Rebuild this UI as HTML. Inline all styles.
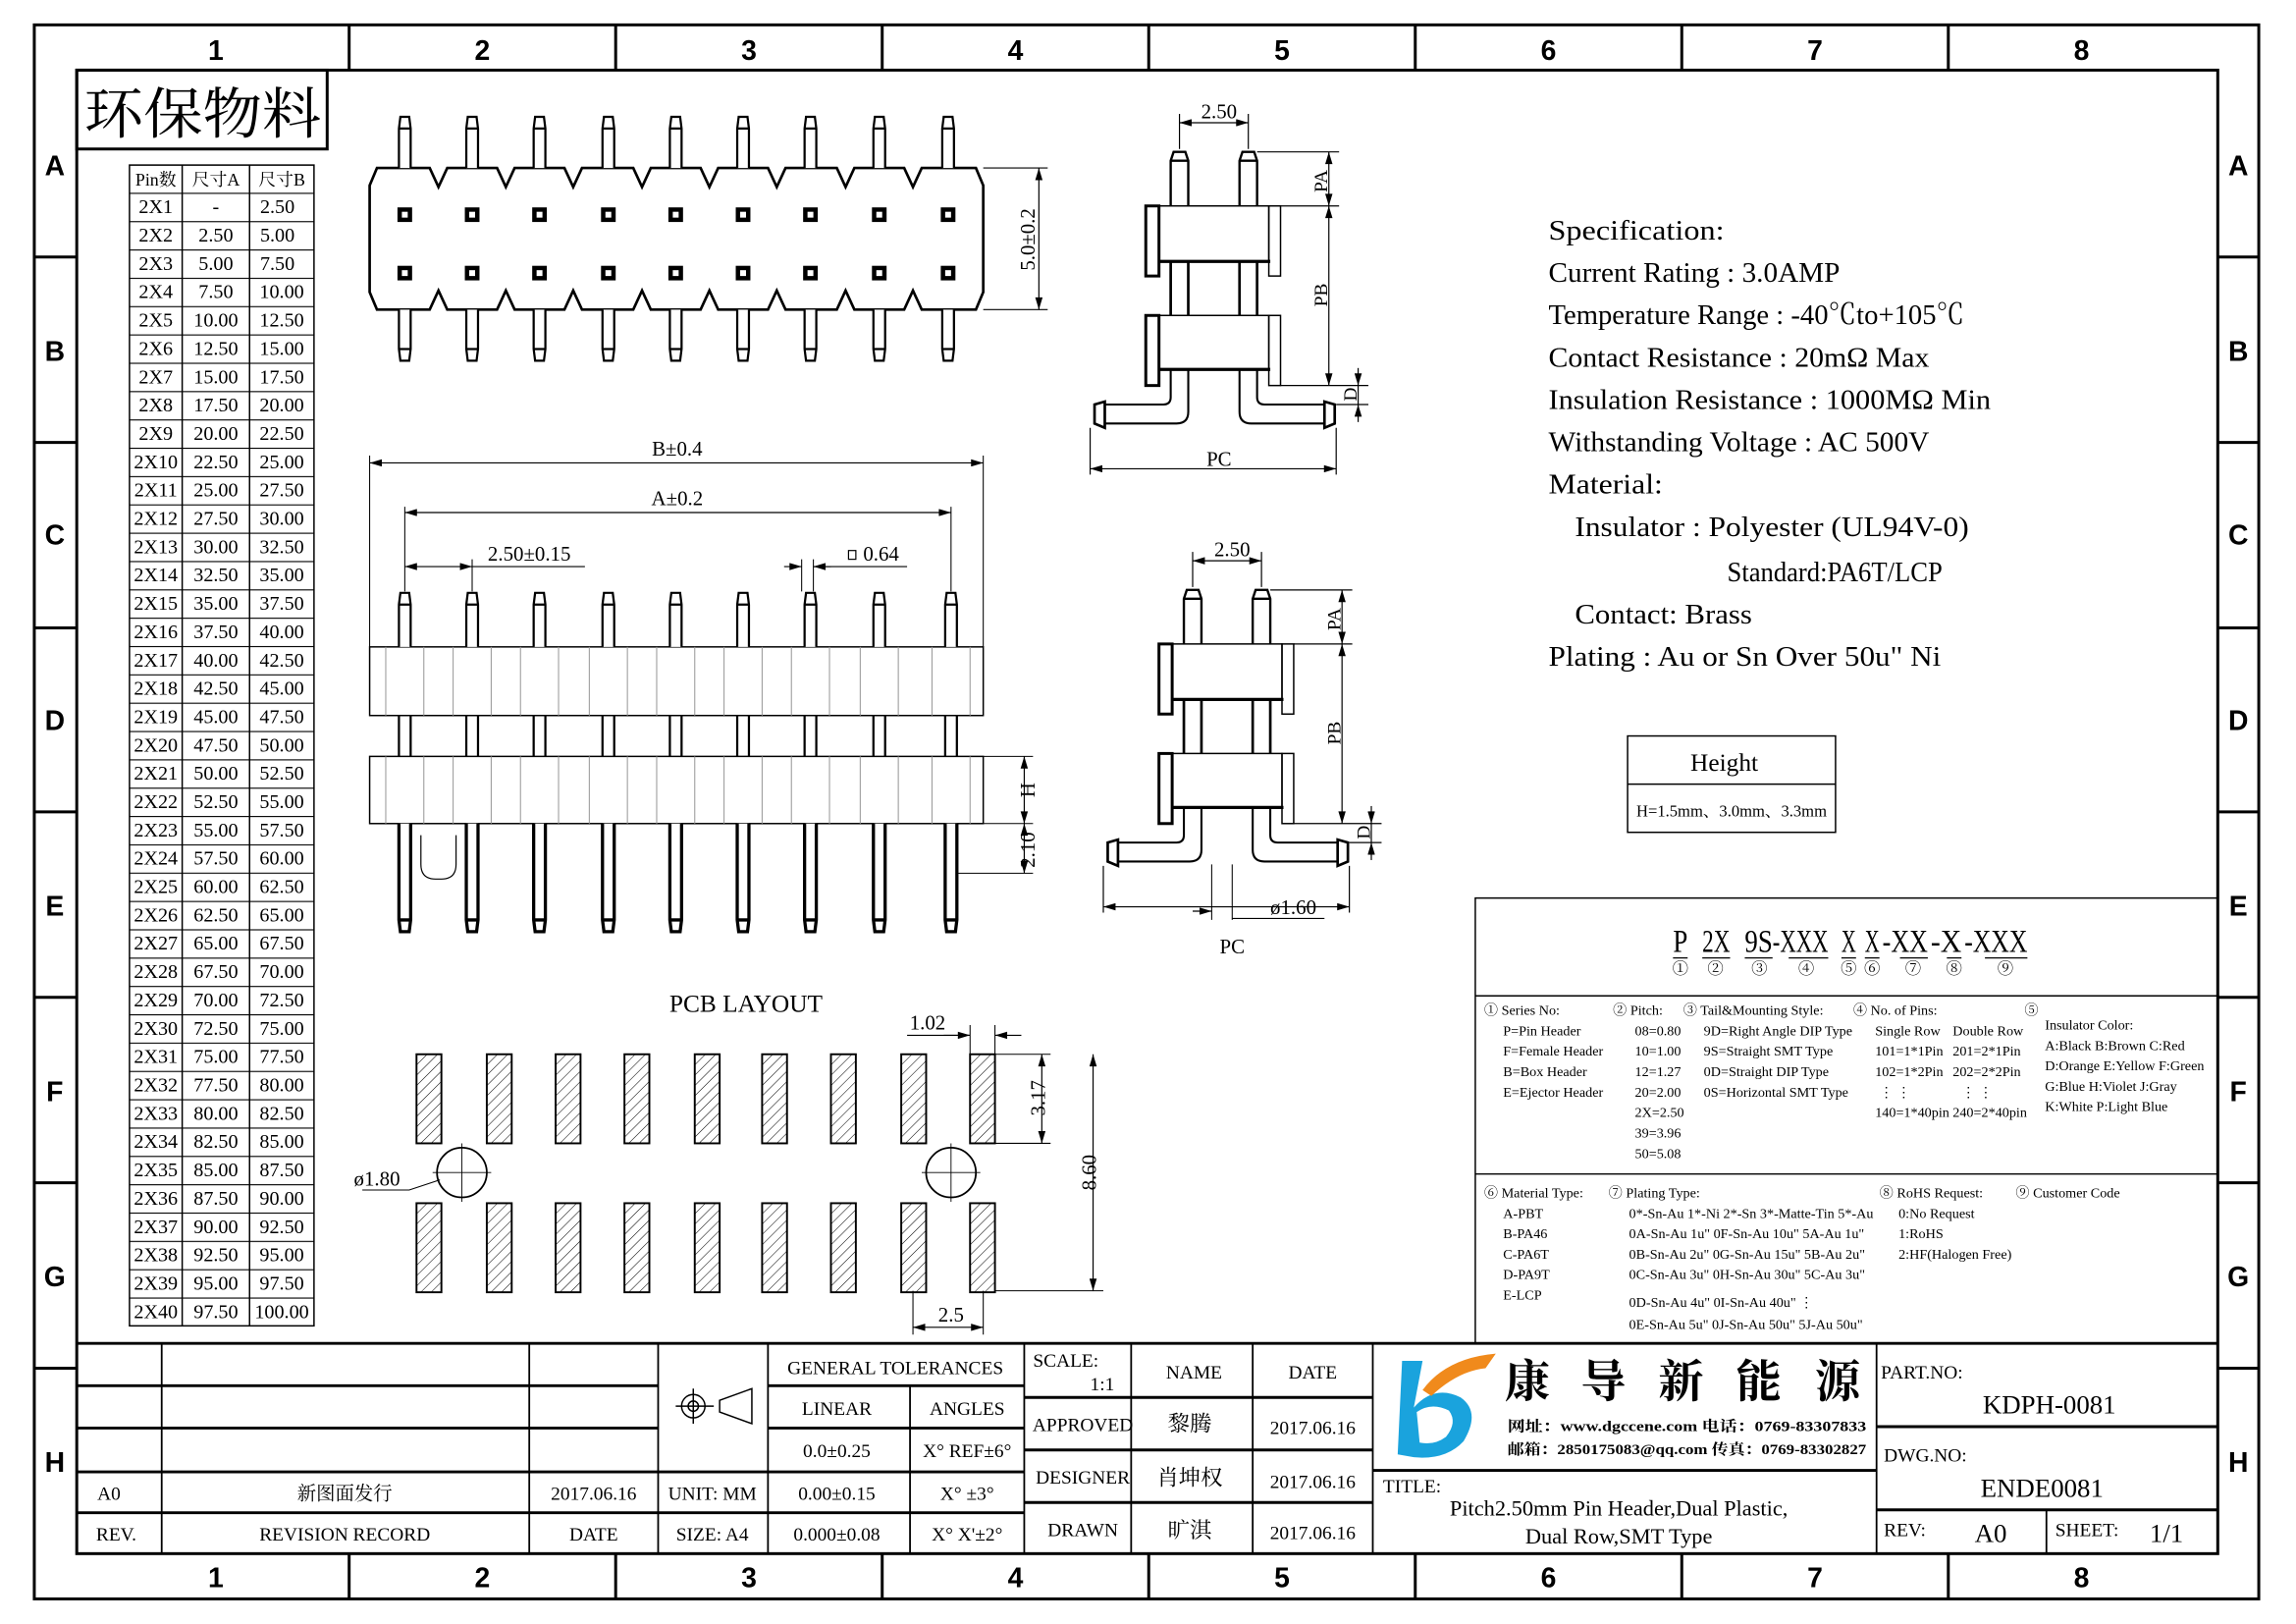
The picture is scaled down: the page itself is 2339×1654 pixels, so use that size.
<!DOCTYPE html>
<html><head><meta charset="utf-8"><style>
html,body{margin:0;padding:0;background:#fff}
svg{display:block}
text{font-family:"Liberation Serif","Noto Serif CJK SC","Noto Sans CJK SC",serif;fill:#000}
.s{font-family:"Liberation Sans","Noto Sans CJK SC",sans-serif;font-weight:bold}
</style></head><body>
<svg width="2339" height="1654" viewBox="0 0 1560 1103" preserveAspectRatio="none" xmlns="http://www.w3.org/2000/svg">
<defs>
<marker id="ar" viewBox="0 0 10 6" refX="10" refY="3" markerWidth="9" markerHeight="5" markerUnits="userSpaceOnUse" orient="auto-start-reverse"><path d="M0,0L10,3L0,6z" fill="#000"/></marker>
<pattern id="hat" patternUnits="userSpaceOnUse" width="5" height="5" patternTransform="rotate(45)"><line x1="0" y1="0" x2="0" y2="5" stroke="#000" stroke-width="0.7"/></pattern>
<pattern id="rows" patternUnits="userSpaceOnUse" x="0" y="130" width="10" height="19.4"><line x1="0" y1="0.3" x2="10" y2="0.3" stroke="#000" stroke-width="0.9"/></pattern>
<g id="tp" fill="#fff" stroke="#000" stroke-width="1.5">
<path d="M-4,113V86L-3,78H3L4,86V113M-4,86H4"/>
<path d="M-4,210V237L-3,245H3L4,237V210M-4,237H4"/>
<rect x="-5" y="140" width="10" height="10" fill="#000" stroke="none"/><rect x="-2" y="143" width="4" height="4" fill="#fff" stroke="none"/>
<rect x="-5" y="180" width="10" height="10" fill="#000" stroke="none"/><rect x="-2" y="183" width="4" height="4" fill="#fff" stroke="none"/>
</g>
<g id="fp" fill="#fff" stroke="#000">
<path d="M-4,441V412L-3,404H3L4,412V441M-4,412H4" stroke-width="1.5"/>
<path d="M-4,488V516M4,488V516" stroke-width="1.5"/>
<path d="M-4,562V628L-3,636H3L4,628V562M-4,628H4" stroke-width="2.2"/>
<line x1="-13" y1="441" x2="-13" y2="488" stroke="#999" stroke-width="0.7"/><line x1="13" y1="441" x2="13" y2="488" stroke="#999" stroke-width="0.7"/>
<line x1="-13" y1="516" x2="-13" y2="562" stroke="#999" stroke-width="0.7"/><line x1="13" y1="516" x2="13" y2="562" stroke="#999" stroke-width="0.7"/>
</g>
<rect id="pad" x="0" y="0" width="17" height="61" fill="url(#hat)" stroke="#000" stroke-width="1.3"/>
<g id="sv" fill="none" stroke="#000">
<path d="M806,76V100M853,76V100" stroke-width="0.8"/>
<line x1="806" y1="82" x2="853" y2="82" stroke-width="0.8" marker-start="url(#ar)" marker-end="url(#ar)"/>
<path d="M800,139V108L802,102H810L812,108V139M800,108H812" stroke-width="1.6"/>
<path d="M847,139V108L849,102H857L859,108V139M847,108H859" stroke-width="1.6"/>
<rect x="792" y="139" width="75" height="38" stroke-width="1"/>
<rect x="783" y="139" width="9" height="48" stroke-width="2"/>
<rect x="867" y="139" width="8" height="48" stroke-width="1"/>
<line x1="792" y1="177" x2="868" y2="177" stroke-width="2.2"/>
<path d="M800,177V214M812,177V214M847,177V214M859,177V214" stroke-width="1.8"/>
<rect x="792" y="214" width="75" height="37" stroke-width="1"/>
<rect x="783" y="214" width="9" height="48" stroke-width="2"/>
<rect x="867" y="214" width="8" height="48" stroke-width="1"/>
<line x1="792" y1="251" x2="868" y2="251" stroke-width="2.2"/>
<path d="M800,251V270Q800,275 795,275H755M812,251V280Q812,288 804,288H755" stroke-width="1.4"/>
<path d="M859,251V270Q859,275 864,275H905M847,251V280Q847,288 855,288H905" stroke-width="1.4"/>
<path d="M755,273L748,275V288L755,291Z" stroke-width="1.8"/>
<path d="M905,273L912,275V288L905,291Z" stroke-width="1.8"/>
<path d="M859,102H915M875,139H915M875,262H935M913,275H935M745,291V323M913,291V323" stroke-width="0.8"/>
<line x1="908" y1="102" x2="908" y2="139" stroke-width="0.8" marker-start="url(#ar)" marker-end="url(#ar)"/>
<line x1="908" y1="139" x2="908" y2="262" stroke-width="0.8" marker-start="url(#ar)" marker-end="url(#ar)"/>
<line x1="928" y1="250" x2="928" y2="262" stroke-width="0.8" marker-end="url(#ar)"/>
<line x1="928" y1="287" x2="928" y2="275" stroke-width="0.8" marker-end="url(#ar)"/>
<line x1="928" y1="262" x2="928" y2="275" stroke-width="0.8"/>
<line x1="745" y1="319" x2="913" y2="319" stroke-width="0.8" marker-start="url(#ar)" marker-end="url(#ar)"/>
</g>
</defs>
<g transform="translate(-0.58,2.02) scale(0.995,0.9917)">
<rect x="24" y="15" width="1519" height="1078" fill="none" stroke="#000" stroke-width="2"/>
<rect x="53" y="46" width="1462" height="1016" fill="none" stroke="#000" stroke-width="2"/>
<path d="M239,15V46M421,15V46M603,15V46M785,15V46M967,15V46M1149,15V46M1331,15V46M239,1062V1093M421,1062V1093M603,1062V1093M785,1062V1093M967,1062V1093M1149,1062V1093M1331,1062V1093M24,174H53M24,301H53M24,428H53M24,554H53M24,681H53M24,808H53M24,935H53M1515,174H1543M1515,301H1543M1515,428H1543M1515,554H1543M1515,681H1543M1515,808H1543M1515,935H1543" stroke="#000" stroke-width="2"/>
<g class="s" font-size="19" text-anchor="middle">
<text x="148" y="39" class="s">1</text><text x="330" y="39" class="s">2</text><text x="512" y="39" class="s">3</text><text x="694" y="39" class="s">4</text><text x="876" y="39" class="s">5</text><text x="1058" y="39" class="s">6</text><text x="1240" y="39" class="s">7</text><text x="1422" y="39" class="s">8</text>
<text x="148" y="1085" class="s">1</text><text x="330" y="1085" class="s">2</text><text x="512" y="1085" class="s">3</text><text x="694" y="1085" class="s">4</text><text x="876" y="1085" class="s">5</text><text x="1058" y="1085" class="s">6</text><text x="1240" y="1085" class="s">7</text><text x="1422" y="1085" class="s">8</text>
<text x="38" y="118" class="s">A</text><text x="38" y="245" class="s">B</text><text x="38" y="371" class="s">C</text><text x="38" y="498" class="s">D</text><text x="38" y="625" class="s">E</text><text x="38" y="752" class="s">F</text><text x="38" y="879" class="s">G</text><text x="38" y="1006" class="s">H</text>
<text x="1529" y="118" class="s">A</text><text x="1529" y="245" class="s">B</text><text x="1529" y="371" class="s">C</text><text x="1529" y="498" class="s">D</text><text x="1529" y="625" class="s">E</text><text x="1529" y="752" class="s">F</text><text x="1529" y="879" class="s">G</text><text x="1529" y="1006" class="s">H</text>
</g>

<rect x="53" y="46" width="171" height="54" fill="none" stroke="#000" stroke-width="2"/>
<text x="58" y="89" font-size="38" textLength="162" lengthAdjust="spacingAndGlyphs" style="font-family:'Noto Serif CJK SC','Liberation Serif',serif">环保物料</text>

<rect x="89" y="111" width="126" height="795" fill="url(#rows)" stroke="#000" stroke-width="1"/>
<path d="M125,111V906M171,111V906" stroke="#000" stroke-width="1"/>
<g font-size="12" text-anchor="middle">
<text x="107" y="125">Pin数</text><text x="148" y="125">尺寸A</text><text x="193" y="125">尺寸B</text>
</g>
<g font-size="13.5" text-anchor="middle">
<text x="107" y="144">2X1</text><text x="148" y="144">-</text><text x="190" y="144">2.50</text>
<text x="107" y="163.4">2X2</text><text x="148" y="163.4">2.50</text><text x="190" y="163.4">5.00</text>
<text x="107" y="182.8">2X3</text><text x="148" y="182.8">5.00</text><text x="190" y="182.8">7.50</text>
<text x="107" y="202.2">2X4</text><text x="148" y="202.2">7.50</text><text x="193" y="202.2">10.00</text>
<text x="107" y="221.6">2X5</text><text x="148" y="221.6">10.00</text><text x="193" y="221.6">12.50</text>
<text x="107" y="241">2X6</text><text x="148" y="241">12.50</text><text x="193" y="241">15.00</text>
<text x="107" y="260.4">2X7</text><text x="148" y="260.4">15.00</text><text x="193" y="260.4">17.50</text>
<text x="107" y="279.8">2X8</text><text x="148" y="279.8">17.50</text><text x="193" y="279.8">20.00</text>
<text x="107" y="299.2">2X9</text><text x="148" y="299.2">20.00</text><text x="193" y="299.2">22.50</text>
<text x="107" y="318.6">2X10</text><text x="148" y="318.6">22.50</text><text x="193" y="318.6">25.00</text>
<text x="107" y="338">2X11</text><text x="148" y="338">25.00</text><text x="193" y="338">27.50</text>
<text x="107" y="357.4">2X12</text><text x="148" y="357.4">27.50</text><text x="193" y="357.4">30.00</text>
<text x="107" y="376.8">2X13</text><text x="148" y="376.8">30.00</text><text x="193" y="376.8">32.50</text>
<text x="107" y="396.2">2X14</text><text x="148" y="396.2">32.50</text><text x="193" y="396.2">35.00</text>
<text x="107" y="415.6">2X15</text><text x="148" y="415.6">35.00</text><text x="193" y="415.6">37.50</text>
<text x="107" y="435">2X16</text><text x="148" y="435">37.50</text><text x="193" y="435">40.00</text>
<text x="107" y="454.4">2X17</text><text x="148" y="454.4">40.00</text><text x="193" y="454.4">42.50</text>
<text x="107" y="473.8">2X18</text><text x="148" y="473.8">42.50</text><text x="193" y="473.8">45.00</text>
<text x="107" y="493.2">2X19</text><text x="148" y="493.2">45.00</text><text x="193" y="493.2">47.50</text>
<text x="107" y="512.6">2X20</text><text x="148" y="512.6">47.50</text><text x="193" y="512.6">50.00</text>
<text x="107" y="532">2X21</text><text x="148" y="532">50.00</text><text x="193" y="532">52.50</text>
<text x="107" y="551.4">2X22</text><text x="148" y="551.4">52.50</text><text x="193" y="551.4">55.00</text>
<text x="107" y="570.8">2X23</text><text x="148" y="570.8">55.00</text><text x="193" y="570.8">57.50</text>
<text x="107" y="590.2">2X24</text><text x="148" y="590.2">57.50</text><text x="193" y="590.2">60.00</text>
<text x="107" y="609.6">2X25</text><text x="148" y="609.6">60.00</text><text x="193" y="609.6">62.50</text>
<text x="107" y="629">2X26</text><text x="148" y="629">62.50</text><text x="193" y="629">65.00</text>
<text x="107" y="648.4">2X27</text><text x="148" y="648.4">65.00</text><text x="193" y="648.4">67.50</text>
<text x="107" y="667.8">2X28</text><text x="148" y="667.8">67.50</text><text x="193" y="667.8">70.00</text>
<text x="107" y="687.2">2X29</text><text x="148" y="687.2">70.00</text><text x="193" y="687.2">72.50</text>
<text x="107" y="706.6">2X30</text><text x="148" y="706.6">72.50</text><text x="193" y="706.6">75.00</text>
<text x="107" y="726">2X31</text><text x="148" y="726">75.00</text><text x="193" y="726">77.50</text>
<text x="107" y="745.4">2X32</text><text x="148" y="745.4">77.50</text><text x="193" y="745.4">80.00</text>
<text x="107" y="764.8">2X33</text><text x="148" y="764.8">80.00</text><text x="193" y="764.8">82.50</text>
<text x="107" y="784.2">2X34</text><text x="148" y="784.2">82.50</text><text x="193" y="784.2">85.00</text>
<text x="107" y="803.6">2X35</text><text x="148" y="803.6">85.00</text><text x="193" y="803.6">87.50</text>
<text x="107" y="823">2X36</text><text x="148" y="823">87.50</text><text x="193" y="823">90.00</text>
<text x="107" y="842.4">2X37</text><text x="148" y="842.4">90.00</text><text x="193" y="842.4">92.50</text>
<text x="107" y="861.8">2X38</text><text x="148" y="861.8">92.50</text><text x="193" y="861.8">95.00</text>
<text x="107" y="881.2">2X39</text><text x="148" y="881.2">95.00</text><text x="193" y="881.2">97.50</text>
<text x="107" y="900.6">2X40</text><text x="148" y="900.6">97.50</text><text x="193" y="900.6">100.00</text>
</g>

<path d="M253,125L258,113H294L300,126L306,113H340L346,126L352,113H386L392,126L398,113H433L439,126L445,113H479L485,126L491,113H525L531,126L537,113H572L578,126L584,113H618L624,126L630,113H667L672,125V198L667,210H630L624,197L618,210H584L578,197L572,210H537L531,197L525,210H491L485,197L479,210H445L439,197L433,210H398L392,197L386,210H352L346,197L340,210H306L300,197L294,210H258L253,198Z" fill="none" stroke="#000" stroke-width="1.8"/>
<use href="#tp" x="277"/><use href="#tp" x="323"/><use href="#tp" x="369"/><use href="#tp" x="416"/><use href="#tp" x="462"/><use href="#tp" x="508"/><use href="#tp" x="554"/><use href="#tp" x="601"/><use href="#tp" x="648"/>
<path d="M672,113H716M672,210H716" stroke="#000" stroke-width="0.8"/>
<line x1="710" y1="113" x2="710" y2="210" stroke="#000" stroke-width="0.8" marker-start="url(#ar)" marker-end="url(#ar)"/>
<text transform="translate(707,162) rotate(-90)" font-size="14" text-anchor="middle">5.0±0.2</text>

<rect x="253" y="441" width="419" height="47" fill="none" stroke="#000" stroke-width="1"/>
<rect x="253" y="516" width="419" height="46" fill="none" stroke="#000" stroke-width="1"/>
<use href="#fp" x="277"/><use href="#fp" x="323"/><use href="#fp" x="369"/><use href="#fp" x="416"/><use href="#fp" x="462"/><use href="#fp" x="508"/><use href="#fp" x="554"/><use href="#fp" x="601"/><use href="#fp" x="650"/>
<path d="M288,570V590Q288,600 298,600H302Q312,600 312,590V570" fill="none" stroke="#000" stroke-width="0.8"/>
<path d="M253,441V310M672,441V310M277,403V345M650,403V345M277,403V381M323,403V381M548,403V381M556,403V381M672,516H706M672,562H706M655,596H706" stroke="#000" stroke-width="0.7" fill="none"/>
<line x1="253" y1="315" x2="672" y2="315" stroke="#000" stroke-width="0.8" marker-start="url(#ar)" marker-end="url(#ar)"/>
<text x="463" y="310" font-size="14" text-anchor="middle">B±0.4</text>
<line x1="277" y1="349" x2="650" y2="349" stroke="#000" stroke-width="0.8" marker-start="url(#ar)" marker-end="url(#ar)"/>
<text x="463" y="344" font-size="14" text-anchor="middle">A±0.2</text>
<line x1="277" y1="386" x2="323" y2="386" stroke="#000" stroke-width="0.8" marker-start="url(#ar)" marker-end="url(#ar)"/>
<line x1="323" y1="386" x2="400" y2="386" stroke="#000" stroke-width="0.8"/>
<text x="362" y="382" font-size="14" text-anchor="middle">2.50±0.15</text>
<line x1="536" y1="386" x2="548" y2="386" stroke="#000" stroke-width="0.8" marker-end="url(#ar)"/>
<line x1="568" y1="386" x2="556" y2="386" stroke="#000" stroke-width="0.8" marker-end="url(#ar)"/>
<line x1="556" y1="386" x2="620" y2="386" stroke="#000" stroke-width="0.8"/>
<rect x="580" y="375" width="5" height="6" fill="none" stroke="#000" stroke-width="0.8"/>
<text x="590" y="382" font-size="14">0.64</text>
<line x1="700" y1="516" x2="700" y2="562" stroke="#000" stroke-width="0.8" marker-start="url(#ar)" marker-end="url(#ar)"/>
<text transform="translate(707,539) rotate(-90)" font-size="14" text-anchor="middle">H</text>
<line x1="700" y1="562" x2="700" y2="596" stroke="#000" stroke-width="0.8" marker-start="url(#ar)" marker-end="url(#ar)"/>
<text transform="translate(707,580) rotate(-90)" font-size="14" text-anchor="middle">2.10</text>

<use href="#sv"/>
<text x="833" y="79" font-size="14" text-anchor="middle">2.50</text>
<text transform="translate(907,122) rotate(-90)" font-size="13" text-anchor="middle">PA</text>
<text transform="translate(907,200) rotate(-90)" font-size="13" text-anchor="middle">PB</text>
<text transform="translate(927,268) rotate(-90)" font-size="13" text-anchor="middle">D</text>
<text x="833" y="317" font-size="14" text-anchor="middle">PC</text>
<use href="#sv" transform="translate(9,300)"/>
<text x="842" y="379" font-size="14" text-anchor="middle">2.50</text>
<text transform="translate(916,422) rotate(-90)" font-size="13" text-anchor="middle">PA</text>
<text transform="translate(916,500) rotate(-90)" font-size="13" text-anchor="middle">PB</text>
<text transform="translate(936,568) rotate(-90)" font-size="13" text-anchor="middle">D</text>
<text x="842" y="651" font-size="14" text-anchor="middle">PC</text>
<path d="M828,590V628M842,590V628M842,627H905" stroke="#000" stroke-width="0.7" fill="none"/>
<line x1="815" y1="622" x2="828" y2="622" stroke="#000" stroke-width="0.8" marker-end="url(#ar)"/>
<text x="868" y="624" font-size="14">ø1.60</text>

<g font-size="19.5">
<text x="1058" y="162" textLength="120" lengthAdjust="spacingAndGlyphs">Specification:</text>
<text x="1058" y="191" textLength="199" lengthAdjust="spacingAndGlyphs">Current Rating : 3.0AMP</text>
<text x="1058" y="220" textLength="284" lengthAdjust="spacingAndGlyphs">Temperature Range : -40℃to+105℃</text>
<text x="1058" y="249" textLength="260" lengthAdjust="spacingAndGlyphs">Contact Resistance : 20mΩ Max</text>
<text x="1058" y="278" textLength="302" lengthAdjust="spacingAndGlyphs">Insulation Resistance : 1000MΩ Min</text>
<text x="1058" y="307" textLength="260" lengthAdjust="spacingAndGlyphs">Withstanding Voltage : AC 500V</text>
<text x="1058" y="336" textLength="78" lengthAdjust="spacingAndGlyphs">Material:</text>
<text x="1076" y="365" textLength="269" lengthAdjust="spacingAndGlyphs">Insulator : Polyester (UL94V-0)</text>
<text x="1180" y="396" textLength="147" lengthAdjust="spacingAndGlyphs">Standard:PA6T/LCP</text>
<text x="1076" y="425" textLength="121" lengthAdjust="spacingAndGlyphs">Contact: Brass</text>
<text x="1058" y="454" textLength="268" lengthAdjust="spacingAndGlyphs">Plating : Au or Sn Over 50u" Ni</text>
</g>

<rect x="1112" y="502" width="142" height="66" fill="none" stroke="#000" stroke-width="1"/>
<line x1="1112" y1="535" x2="1254" y2="535" stroke="#000" stroke-width="1"/>
<text x="1178" y="526" font-size="17" text-anchor="middle">Height</text>
<text x="1183" y="557" font-size="11" text-anchor="middle" textLength="130" lengthAdjust="spacingAndGlyphs">H=1.5mm、3.0mm、3.3mm</text>

<path d="M1008,918V613H1515M1008,680H1515M1008,802H1515" stroke="#000" stroke-width="1" fill="none"/>
<g font-size="22">
<text x="1143" y="650" textLength="10" lengthAdjust="spacingAndGlyphs">P</text>
<text x="1163" y="650" textLength="19" lengthAdjust="spacingAndGlyphs">2X</text>
<text x="1192" y="650" textLength="19" lengthAdjust="spacingAndGlyphs">9S</text>
<text x="1211" y="650" textLength="38" lengthAdjust="spacingAndGlyphs">-XXX</text>
<text x="1258" y="650" textLength="10" lengthAdjust="spacingAndGlyphs">X</text>
<text x="1274" y="650" textLength="10" lengthAdjust="spacingAndGlyphs">X</text>
<text x="1286" y="650" textLength="31" lengthAdjust="spacingAndGlyphs">-XX</text>
<text x="1319" y="650" textLength="21" lengthAdjust="spacingAndGlyphs">-X</text>
<text x="1342" y="650" textLength="43" lengthAdjust="spacingAndGlyphs">-XXX</text>
</g>
<path d="M1143,654H1153M1163,654H1182M1192,654H1211M1222,654H1249M1258,654H1268M1274,654H1284M1298,654H1317M1330,654H1340M1356,654H1385" stroke="#000" stroke-width="0.8"/>
<g font-size="11" text-anchor="middle">
<text x="1148" y="665">①</text><text x="1172" y="665">②</text><text x="1202" y="665">③</text><text x="1234" y="665">④</text><text x="1263" y="665">⑤</text><text x="1279" y="665">⑥</text><text x="1307" y="665">⑦</text><text x="1335" y="665">⑧</text><text x="1370" y="665">⑨</text>
</g>
<g font-size="9.5">
<text x="1014" y="693">① Series No:</text>
<text x="1027" y="707">P=Pin Header</text><text x="1027" y="721">F=Female Header</text><text x="1027" y="735">B=Box Header</text><text x="1027" y="749">E=Ejector Header</text>
<text x="1102" y="693">② Pitch:</text>
<text x="1117" y="707">08=0.80</text><text x="1117" y="721">10=1.00</text><text x="1117" y="735">12=1.27</text><text x="1117" y="749">20=2.00</text><text x="1117" y="763">2X=2.50</text><text x="1117" y="777">39=3.96</text><text x="1117" y="791">50=5.08</text>
<text x="1150" y="693">③ Tail&amp;Mounting Style:</text>
<text x="1164" y="707">9D=Right Angle DIP Type</text><text x="1164" y="721">9S=Straight SMT Type</text><text x="1164" y="735">0D=Straight DIP Type</text><text x="1164" y="749">0S=Horizontal SMT Type</text>
<text x="1266" y="693">④ No. of Pins:</text>
<text x="1281" y="707">Single Row</text><text x="1334" y="707">Double Row</text>
<text x="1281" y="721">101=1*1Pin</text><text x="1334" y="721">201=2*1Pin</text>
<text x="1281" y="735">102=1*2Pin</text><text x="1334" y="735">202=2*2Pin</text>
<text x="1284" y="749">⋮  ⋮</text><text x="1340" y="749">⋮  ⋮</text>
<text x="1281" y="763">140=1*40pin</text><text x="1334" y="763">240=2*40pin</text>
<text x="1383" y="693">⑤</text>
<text x="1397" y="703">Insulator Color:</text>
<text x="1397" y="717">A:Black  B:Brown  C:Red</text>
<text x="1397" y="731">D:Orange E:Yellow F:Green</text>
<text x="1397" y="745">G:Blue   H:Violet J:Gray</text>
<text x="1397" y="759">K:White  P:Light Blue</text>
<text x="1014" y="818">⑥ Material Type:</text>
<text x="1027" y="832">A-PBT</text><text x="1027" y="846">B-PA46</text><text x="1027" y="860">C-PA6T</text><text x="1027" y="874">D-PA9T</text><text x="1027" y="888">E-LCP</text>
<text x="1099" y="818">⑦ Plating Type:</text>
<text x="1113" y="832">0*-Sn-Au 1*-Ni 2*-Sn 3*-Matte-Tin 5*-Au</text>
<text x="1113" y="846">0A-Sn-Au 1u" 0F-Sn-Au 10u"  5A-Au 1u"</text>
<text x="1113" y="860">0B-Sn-Au 2u" 0G-Sn-Au 15u"  5B-Au 2u"</text>
<text x="1113" y="874">0C-Sn-Au 3u" 0H-Sn-Au 30u"  5C-Au 3u"</text>
<text x="1113" y="893">0D-Sn-Au 4u" 0I-Sn-Au 40u"     ⋮</text>
<text x="1113" y="908">0E-Sn-Au 5u" 0J-Sn-Au 50u"  5J-Au 50u"</text>
<text x="1284" y="818">⑧ RoHS Request:</text>
<text x="1297" y="832">0:No Request</text><text x="1297" y="846">1:RoHS</text><text x="1297" y="860">2:HF(Halogen Free)</text>
<text x="1377" y="818">⑨ Customer Code</text>
</g>

<text x="510" y="691" font-size="17" text-anchor="middle">PCB LAYOUT</text>
<use href="#pad" x="285" y="720"/><use href="#pad" x="333" y="720"/><use href="#pad" x="380" y="720"/><use href="#pad" x="427" y="720"/><use href="#pad" x="475" y="720"/><use href="#pad" x="521" y="720"/><use href="#pad" x="568" y="720"/><use href="#pad" x="616" y="720"/><use href="#pad" x="663" y="720"/>
<use href="#pad" x="285" y="822"/><use href="#pad" x="333" y="822"/><use href="#pad" x="380" y="822"/><use href="#pad" x="427" y="822"/><use href="#pad" x="475" y="822"/><use href="#pad" x="521" y="822"/><use href="#pad" x="568" y="822"/><use href="#pad" x="616" y="822"/><use href="#pad" x="663" y="822"/>
<g fill="none" stroke="#000" stroke-width="1.2">
<circle cx="316" cy="801" r="17"/><circle cx="650" cy="801" r="17"/>
<path d="M296,801H336M316,781V821M630,801H670M650,781V821" stroke-width="0.6"/>
</g>
<path d="M663,720V700M680,720V700M680,720H718M680,781H718M680,882H754M624,882V912M672,882V912M248,813H280L301,806" stroke="#000" stroke-width="0.7" fill="none"/>
<line x1="645" y1="707" x2="663" y2="707" stroke="#000" stroke-width="0.8" marker-end="url(#ar)"/>
<line x1="698" y1="707" x2="680" y2="707" stroke="#000" stroke-width="0.8" marker-end="url(#ar)"/>
<line x1="620" y1="707" x2="663" y2="707" stroke="#000" stroke-width="0.8"/>
<text x="634" y="703" font-size="14" text-anchor="middle">1.02</text>
<line x1="712" y1="720" x2="712" y2="781" stroke="#000" stroke-width="0.8" marker-start="url(#ar)" marker-end="url(#ar)"/>
<text transform="translate(714,750) rotate(-90)" font-size="14" text-anchor="middle">3.17</text>
<line x1="747" y1="720" x2="747" y2="882" stroke="#000" stroke-width="0.8" marker-start="url(#ar)" marker-end="url(#ar)"/>
<text transform="translate(749,801) rotate(-90)" font-size="14" text-anchor="middle">8.60</text>
<line x1="624" y1="907" x2="672" y2="907" stroke="#000" stroke-width="0.8" marker-start="url(#ar)" marker-end="url(#ar)"/>
<text x="650" y="903" font-size="14" text-anchor="middle">2.5</text>
<text x="258" y="810" font-size="14" text-anchor="middle">ø1.80</text>

<g stroke="#000" fill="none">
<path d="M53,918H1515" stroke-width="2"/>
<path d="M53,947H450M53,976H450M53,1006H525M53,1034H700M525,947H700M525,976H700M525,1006H700" stroke-width="2"/>
<path d="M111,918V1062M362,918V1062M450,918V1062M525,918V1062M622,947V1062M700,918V1062M773,918V1062M856,918V1062M938,918V1062M1282,918V1062" stroke-width="1.2"/>
<path d="M700,955H938M700,991H938M700,1027H938" stroke-width="2"/>
<path d="M938,1005H1282M1282,975H1515M1282,1032H1515" stroke-width="2"/>
<path d="M1398,1032V1062" stroke-width="1.2"/>
</g>
<g font-size="13" text-anchor="middle">
<text x="75" y="1025">A0</text><text x="236" y="1025">新图面发行</text><text x="406" y="1025">2017.06.16</text><text x="487" y="1025">UNIT: MM</text>
<text x="80" y="1053">REV.</text><text x="236" y="1053">REVISION RECORD</text><text x="406" y="1053">DATE</text><text x="487" y="1053">SIZE: A4</text>
<text x="612" y="939">GENERAL TOLERANCES</text>
<text x="572" y="967">LINEAR</text><text x="661" y="967">ANGLES</text>
<text x="572" y="996">0.0±0.25</text><text x="661" y="996">X° REF±6°</text>
<text x="572" y="1025">0.00±0.15</text><text x="661" y="1025">X° ±3°</text>
<text x="572" y="1053">0.000±0.08</text><text x="661" y="1053">X° X'±2°</text>
<text x="816" y="942">NAME</text><text x="897" y="942">DATE</text>
<text x="740" y="978">APPROVED</text><text x="813" y="978" font-size="15">黎腾</text><text x="897" y="980">2017.06.16</text>
<text x="740" y="1014">DESIGNER</text><text x="813" y="1015" font-size="15">肖坤权</text><text x="897" y="1017">2017.06.16</text>
<text x="740" y="1050">DRAWN</text><text x="813" y="1051" font-size="15">旷淇</text><text x="897" y="1052">2017.06.16</text>
</g>
<text x="706" y="934" font-size="13">SCALE:</text><text x="745" y="950" font-size="13">1:1</text>
<g fill="none" stroke="#000" stroke-width="1">
<circle cx="474" cy="961" r="8"/><circle cx="474" cy="961" r="3.5"/><path d="M462,961H488M474,949V973M492,957L514,949V973L492,965Z"/>
</g>
<path d="M958,930H972L966,962Q980,946 998,955Q1012,965 1000,985Q988,998 966,996L955,994Z" fill="#1aa3dd"/>
<path d="M968,965Q978,958 990,964Q996,972 988,982Q980,988 970,986Z" fill="#fff"/>
<path d="M972,950Q988,928 1022,925L1015,935Q996,937 978,954Z" fill="#f08a1c"/>
<g font-size="31" style="font-family:'Noto Sans CJK SC','WenQuanYi Zen Hei',sans-serif;font-weight:bold">
<text x="1028" y="955">康</text><text x="1080" y="955">导</text><text x="1133" y="955">新</text><text x="1186" y="955">能</text><text x="1240" y="955">源</text>
</g>
<g font-size="10" style="font-family:'Noto Sans CJK SC',sans-serif;font-weight:bold">
<text x="1030" y="978" textLength="245" lengthAdjust="spacingAndGlyphs">网址：www.dgccene.com   电话：0769-83307833</text>
<text x="1030" y="994" textLength="245" lengthAdjust="spacingAndGlyphs">邮箱：2850175083@qq.com 传真：0769-83302827</text>
</g>
<text x="945" y="1020" font-size="13">TITLE:</text>
<text x="1106" y="1036" font-size="15" text-anchor="middle">Pitch2.50mm Pin Header,Dual Plastic,</text>
<text x="1106" y="1055" font-size="15" text-anchor="middle">Dual Row,SMT Type</text>
<text x="1285" y="942" font-size="13">PART.NO:</text>
<text x="1400" y="966" font-size="18" text-anchor="middle">KDPH-0081</text>
<text x="1287" y="999" font-size="13">DWG.NO:</text>
<text x="1395" y="1023" font-size="18" text-anchor="middle">ENDE0081</text>
<text x="1287" y="1050" font-size="13">REV:</text>
<text x="1360" y="1054" font-size="18" text-anchor="middle">A0</text>
<text x="1404" y="1050" font-size="13">SHEET:</text>
<text x="1480" y="1054" font-size="18" text-anchor="middle">1/1</text>
</g>
</svg>
</body></html>
